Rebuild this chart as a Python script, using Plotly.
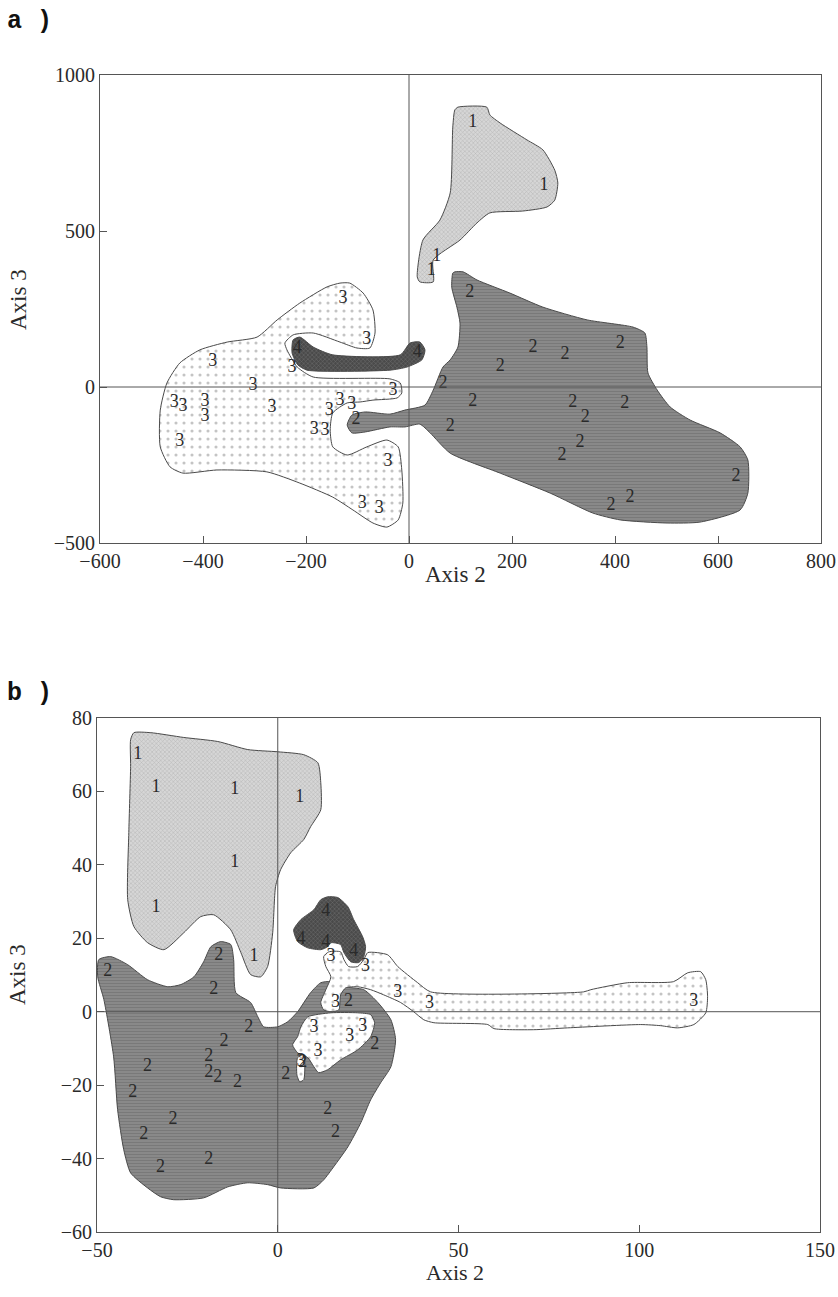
import plotly.graph_objects as go

# ---------------- Panel a data ----------------
a_g1_x = [124, 262, 54, 43]
a_g1_y = [849, 647, 417, 372]
a_g2_x = [118, 241, 303, 410, 177, 66, 124, 80, 318, 342, 419, 332, 297, 429, 392, 635, -103]
a_g2_y = [304, 128, 103, 138, 67, 10, -48, -128, -51, -99, -54, -179, -221, -353, -381, -288, -104]
a_g3_x = [-128, -82, -381, -227, -303, -31, -456, -439, -396, -396, -266, -155, -134, -111, -184, -163, -445, -41, -91, -58]
a_g3_y = [285, 151, 83, 61, 6, -10, -51, -64, -48, -96, -67, -74, -44, -56, -135, -138, -176, -240, -372, -388]
a_g4_x = [-217, 16]
a_g4_y = [125, 112]

a_r1_x = [95, 151, 157, 177, 229, 260, 283, 289, 283, 268, 221, 157, 132, 99, 47, 47, 21, 16, 27, 60, 80, 85, 89]
a_r1_y = [897, 897, 872, 846, 792, 760, 695, 654, 599, 577, 564, 558, 526, 471, 407, 337, 337, 353, 471, 535, 622, 833, 888]
a_r2_x = [89, 105, 132, 196, 260, 346, 435, 458, 462, 464, 482, 507, 546, 604, 643, 658, 658, 643, 565, 501, 410, 357, 274, 177, 80, 41, 21, -8, -37, -85, -111, -120, -111, -85, -37, -8, 31, 47, 66, 80, 95, 99, 93, 83, 85]
a_r2_y = [369, 369, 343, 301, 256, 215, 192, 173, 128, 45, -10, -64, -106, -147, -192, -234, -340, -394, -433, -436, -426, -404, -340, -276, -212, -147, -119, -128, -128, -144, -147, -122, -90, -80, -87, -74, -58, -10, 64, 87, 128, 205, 256, 320, 365]
a_r3_x = [-134, -115, -89, -70, -66, -76, -101, -134, -186, -225, -241, -237, -217, -186, -37, -17, -14, -23, -70, -95, -120, -148, -153, -148, -120, -82, -43, -21, -14, -12, -21, -43, -70, -109, -148, -212, -276, -373, -439, -464, -483, -483, -470, -445, -406, -353, -295, -256, -212, -159]
a_r3_y = [333, 333, 301, 247, 173, 125, 125, 144, 173, 167, 141, 119, 64, 32, 26, 13, -19, -35, -42, -48, -51, -83, -138, -192, -218, -192, -170, -192, -266, -372, -426, -449, -436, -394, -353, -308, -272, -266, -276, -256, -192, -74, 13, 77, 119, 144, 160, 215, 269, 321]
a_r4_x = [-212, -186, -148, -17, 2, 21, 31, 25, -4, -37, -198, -216, -227, -225]
a_r4_y = [160, 128, 103, 103, 141, 144, 119, 87, 64, 54, 54, 71, 109, 151]

# ---------------- Panel b data ----------------
b_g1_x = [-38.7, -33.7, -11.9, 6.1, -11.9, -33.7, -6.6]
b_g1_y = [70.0, 61.0, 60.5, 58.3, 40.6, 28.3, 15.0]
b_g2_x = [-47.0, -16.3, -17.7, -8.0, -14.9, -19.1, -19.1, -16.6, -11.1, -36.0, -40.1, -29.0, -37.1, -32.4, -19.1, 2.2, 13.8, 16.0, 26.8, 6.9, 19.6]
b_g2_y = [10.9, 15.3, 6.0, -4.4, -8.2, -12.3, -16.6, -18.0, -19.3, -15.0, -22.1, -29.4, -33.5, -42.5, -40.3, -17.2, -26.7, -33.0, -9.0, -13.9, 2.7]
b_g3_x = [14.7, 24.3, 33.2, 42.0, 16.0, 10.0, 23.5, 19.9, 11.1, 6.4, 115.1]
b_g3_y = [15.0, 12.3, 5.2, 2.2, 2.5, -4.4, -4.1, -6.8, -10.9, -13.6, 2.7]
b_g4_x = [13.3, 6.4, 13.3, 21.0]
b_g4_y = [27.2, 19.6, 18.8, 16.3]

b_r1_x = [-39.8, -35.1, -26.0, -16.6, -8.3, 0, 7.2, 11.1, 11.9, 11.9, 9.1, 7.2, 3.6, 0.8, -0.6, -1.4, -2.8, -4.7, -7.5, -10.2, -13.0, -17.7, -21.3, -26.0, -31.5, -36.0, -39.8, -41.5, -41.2, -40.7, -40.7]
b_r1_y = [76.0, 76.0, 74.7, 73.6, 71.4, 70.8, 70.0, 67.8, 62.4, 55.0, 50.4, 46.9, 43.3, 38.7, 34.1, 21.5, 12.3, 9.5, 10.1, 16.1, 22.3, 26.4, 25.9, 21.5, 16.9, 18.8, 23.2, 30.5, 48.8, 66.8, 74.1]
b_r2_x = [-49.5, -46.2, -41.5, -36.0, -30.4, -26.8, -23.2, -20.5, -18.5, -15.8, -13.0, -12.2, -11.6, -7.5, -5.5, -3.9, 0, 2.8, 5.5, 9.1, 11.9, 14.7, 18.3, 23.8, 27.7, 31.3, 32.6, 31.3, 28.5, 25.7, 23.0, 19.4, 15.5, 12.7, 10.0, 0.8, -2.8, -8.3, -13.8, -20.5, -28.8, -32.4, -36.0, -40.7, -42.6, -44.3, -45.4, -48.1, -49.8]
b_r2_y = [14.2, 15.0, 12.8, 8.7, 6.8, 7.4, 9.5, 13.6, 17.7, 19.1, 18.3, 14.2, 5.2, 2.5, -1.4, -4.1, -4.1, -2.7, 0, 5.2, 7.9, 8.2, 6.8, 6.0, 2.5, -2.2, -7.6, -15.0, -19.3, -24.0, -30.2, -36.8, -42.2, -45.8, -48.0, -48.0, -47.1, -46.6, -47.7, -50.7, -51.2, -50.4, -48.0, -43.9, -37.6, -26.7, -12.3, 3.3, 9.5]
b_r3_x = [12.7, 14.1, 17.4, 18.3, 19.6, 22.1, 23.8, 24.9, 30.4, 33.2, 38.7, 42.3, 84.6, 86.6, 96.8, 109.5, 113.4, 117.0, 118.4, 118.9, 118.4, 115.1, 110.6, 105.9, 100.4, 80.2, 70.8, 59.8, 58.1, 43.2, 40.4, 37.6, 34.0, 29.3, 25.7, 22.1, 18.8, 17.4, 16.9, 14.7, 12.7, 11.9, 13.3, 14.7, 13.3]
b_r3_y = [15.0, 16.3, 16.3, 14.2, 12.3, 12.3, 14.2, 16.1, 15.5, 12.3, 7.9, 5.4, 5.4, 6.0, 7.9, 8.2, 10.6, 10.9, 8.7, 4.1, -0.3, -3.5, -4.4, -3.8, -3.5, -4.4, -4.9, -4.6, -3.5, -3.0, -2.2, 0, 2.5, 4.6, 6.0, 6.8, 6.5, 4.6, 0.5, 0, 0.5, 2.5, 6.0, 9.5, 12.3]
b_r3b_x = [8.3, 14.7, 22.1, 25.7, 26.8, 25.7, 22.1, 17.4, 13.8, 11.3, 10.0, 8.3, 5.5, 4.1, 5.5, 6.4]
b_r3b_y = [-1.4, -0.3, -0.3, -0.8, -3.0, -6.8, -10.4, -13.1, -15.8, -16.6, -15.0, -12.5, -11.2, -9.0, -6.8, -4.1]
b_r3c_x = [5.5, 7.2, 7.2, 6.1, 5.3]
b_r3c_y = [-12.5, -11.7, -18.5, -19.1, -17.2]
b_r4_x = [13.8, 16.6, 19.4, 21.0, 23.5, 24.3, 23.8, 22.4, 20.2, 18.3, 17.4, 14.7, 13.8, 11.9, 8.3, 5.5, 4.4, 6.4, 10.0, 11.9]
b_r4_y = [31.3, 31.1, 28.6, 25.1, 20.4, 17.7, 15.0, 13.4, 13.6, 16.1, 18.3, 18.8, 17.7, 16.9, 17.4, 19.1, 22.3, 25.1, 27.8, 30.5]

a_xticks = [-600, -400, -200, 0, 200, 400, 600, 800]
a_yticks = [-500, 0, 500, 1000]
b_xticks = [-50, 0, 50, 100, 150]
b_yticks = [-60, -40, -20, 0, 20, 40, 60, 80]

# ---------------- Styles ----------------
STY = {
    "1": dict(shape="x", bgcolor="#d6d6d6", fgcolor="#909090", size=3, solidity=0.3),
    "2": dict(shape="-", bgcolor="#8c8c8c", fgcolor="#666666", size=3, solidity=0.45),
    "3": dict(shape=".", bgcolor="#ffffff", fgcolor="#8a8a8a", size=8, solidity=0.12),
    "4": dict(shape="x", bgcolor="#4a4a4a", fgcolor="#959595", size=3, solidity=0.3),
}
EDGE = "#4a4a4a"
TXT = "#2a2a2a"
SERIF = "Liberation Serif, Times New Roman, serif"
MONO = "Liberation Mono, Courier New, DejaVu Sans Mono, monospace"

fig = go.Figure()


def region(x, y, key, xa, ya):
    fig.add_trace(go.Scatter(
        x=x + [x[0]], y=y + [y[0]], mode="lines", fill="toself",
        fillcolor=STY[key]["bgcolor"], fillpattern=STY[key],
        line=dict(color=EDGE, width=1, shape="spline", smoothing=0.6),
        xaxis=xa, yaxis=ya, hoverinfo="skip", showlegend=False))


def labels(x, y, t, xa, ya):
    fig.add_trace(go.Scatter(
        x=x, y=y, mode="text", text=[t] * len(x),
        textfont=dict(family=SERIF, size=18, color=TXT),
        xaxis=xa, yaxis=ya, hoverinfo="skip", showlegend=False))


# panel a
region(a_r3_x, a_r3_y, "3", "x", "y")
region(a_r2_x, a_r2_y, "2", "x", "y")
region(a_r1_x, a_r1_y, "1", "x", "y")
region(a_r4_x, a_r4_y, "4", "x", "y")
labels(a_g1_x, a_g1_y, "1", "x", "y")
labels(a_g2_x, a_g2_y, "2", "x", "y")
labels(a_g3_x, a_g3_y, "3", "x", "y")
labels(a_g4_x, a_g4_y, "4", "x", "y")

# panel b
region(b_r2_x, b_r2_y, "2", "x2", "y2")
region(b_r3_x, b_r3_y, "3", "x2", "y2")
region(b_r3b_x, b_r3b_y, "3", "x2", "y2")
region(b_r3c_x, b_r3c_y, "3", "x2", "y2")
region(b_r4_x, b_r4_y, "4", "x2", "y2")
region(b_r1_x, b_r1_y, "1", "x2", "y2")
labels(b_g1_x, b_g1_y, "1", "x2", "y2")
labels(b_g2_x, b_g2_y, "2", "x2", "y2")
labels(b_g3_x, b_g3_y, "3", "x2", "y2")
labels(b_g4_x, b_g4_y, "4", "x2", "y2")

W, H = 838, 1297
axis_common = dict(showgrid=False, zeroline=False, showline=True, mirror=True,
                   linecolor="#555", linewidth=1, ticks="inside", ticklen=7,
                   tickcolor="#555", automargin=False,
                   tickfont=dict(family=SERIF, size=20, color=TXT))

fig.update_layout(
    width=W, height=H, margin=dict(l=0, r=0, t=0, b=0, autoexpand=False),
    plot_bgcolor="white", paper_bgcolor="white", showlegend=False,
    xaxis=dict(domain=[100 / W, 821 / W], range=[-600, 800], tickvals=a_xticks,
               anchor="y", **axis_common),
    yaxis=dict(domain=[1 - 543 / H, 1 - 75 / H], range=[-500, 1000], tickvals=a_yticks,
               anchor="x", **axis_common),
    xaxis2=dict(domain=[97 / W, 820 / W], range=[-50, 150], tickvals=b_xticks,
                anchor="y2", **axis_common),
    yaxis2=dict(domain=[1 - 1232 / H, 1 - 718 / H], range=[-60, 80], tickvals=b_yticks,
                anchor="x2", **axis_common),
)

# zero reference lines on top of fills
for xr, yr in (("x", "y"), ("x2", "y2")):
    fig.add_shape(type="line", xref=xr, yref=yr + " domain", x0=0, x1=0, y0=0, y1=1,
                  line=dict(color="#555", width=1), layer="above")
    fig.add_shape(type="line", xref=xr + " domain", yref=yr, x0=0, x1=1, y0=0, y1=0,
                  line=dict(color="#555", width=1), layer="above")

ann = []
ann.append(dict(text="<b>a )</b>", x=5 / W, y=1 - 21 / H, xanchor="left", yanchor="middle",
                font=dict(family=MONO, size=25, color="#111")))
ann.append(dict(text="<b>b )</b>", x=5 / W, y=1 - 693 / H, xanchor="left", yanchor="middle",
                font=dict(family=MONO, size=25, color="#111")))
ann.append(dict(text="Axis 2", x=455 / W, y=1 - 574 / H, xanchor="center", yanchor="middle",
                font=dict(family=SERIF, size=23, color=TXT)))
ann.append(dict(text="Axis 2", x=455 / W, y=1 - 1272 / H, xanchor="center", yanchor="middle",
                font=dict(family=SERIF, size=22, color=TXT)))
ann.append(dict(text="Axis 3", x=18 / W, y=1 - 300 / H, xanchor="center", yanchor="middle",
                textangle=-90, font=dict(family=SERIF, size=23, color=TXT)))
ann.append(dict(text="Axis 3", x=18 / W, y=1 - 975 / H, xanchor="center", yanchor="middle",
                textangle=-90, font=dict(family=SERIF, size=23, color=TXT)))
for a in ann:
    fig.add_annotation(xref="paper", yref="paper", showarrow=False, **a)

fig.write_html("out.html", config={"displayModeBar": False},
               post_script="document.body.style.margin='0px';document.body.style.padding='0px';")
